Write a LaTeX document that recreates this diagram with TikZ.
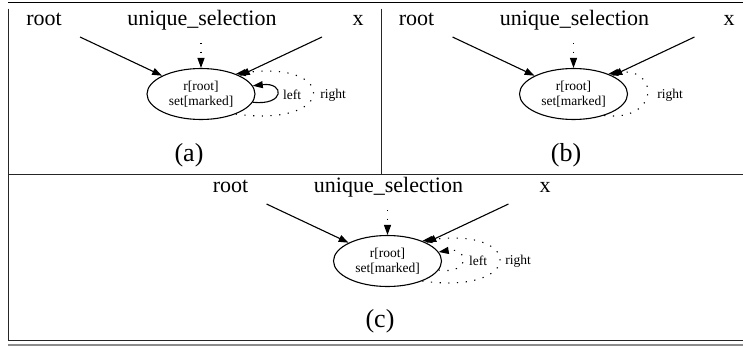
\documentclass[tikz,border=0pt]{standalone}
\usepackage{fontspec}
\setmainfont{Liberation Serif}
\usetikzlibrary{arrows.meta,shapes.geometric}

\begin{document}
\begin{tikzpicture}[x=1pt,y=-1pt,
  lbl/.style={font=\fontsize{22}{24}\selectfont, anchor=base, inner sep=0pt},
  state/.style={ellipse, draw, line width=1.1pt, minimum width=108pt, minimum height=51pt,
                inner sep=0pt, align=center, font=\fontsize{13.5}{14.5}\selectfont},
  edge/.style={line width=1.1pt, -{Triangle[length=10pt,width=7pt]}},
  dotedge/.style={edge, dash pattern=on 1.2pt off 7.5pt},
  small/.style={font=\fontsize{13.5}{15}\selectfont, inner sep=0pt},
  caption/.style={font=\fontsize{26}{28}\selectfont, anchor=base, inner sep=0pt},
  frame/.style={line width=1pt, black!85}]
\useasboundingbox (0,0) rectangle (743,348);

% table rules and panel borders
\draw[line width=1.4pt] (8,2.5) -- (743,2.5);
\draw[frame] (8.5,8.5) -- (8.5,340.5) -- (743,340.5);
\draw[frame] (8.5,174) -- (743,174);
\draw[frame] (381,8.5) -- (381,174);
\draw[line width=2pt, black!45] (8,345) -- (743,345);

% ---- panel (a)
\node[lbl] (rootA) at (44,25) {root};
\node[lbl] (uselA) at (202,25) {unique\_selection};
\node[lbl] (xA) at (358,25) {x};
\coordinate (rootAo) at (80,37);
\coordinate (uselAo) at (201,43);
\coordinate (xAo) at (322,37);
\node[state] (sA) at (201,94) {r[root]\\set[marked]};
\draw[edge] (rootAo) -- (sA);
\draw[edge] (xAo) -- (sA);
\draw[dotedge] (uselAo) -- (sA);
\draw[edge] (sA.-9) .. controls (285,106) and (285,82) .. (sA.9);
\draw[dotedge] (sA.-30) .. controls (338,128) and (338,60) .. (sA.30);
\node[small] (leftA) at (292,95) {left};
\node[small] (rightA) at (333,95) {right};
\node[caption] (capA) at (189,161) {(a)};

% ---- panel (b)
\node[lbl] (rootB) at (416.5,25) {root};
\node[lbl] (uselB) at (574.5,25) {unique\_selection};
\node[lbl] (xB) at (729,25) {x};
\coordinate (rootBo) at (452.5,37);
\coordinate (uselBo) at (573.5,43);
\coordinate (xBo) at (694.5,37);
\node[state] (sB) at (573.5,94) {r[root]\\set[marked]};
\draw[edge] (rootBo) -- (sB);
\draw[edge] (xBo) -- (sB);
\draw[dotedge] (uselBo) -- (sB);
\draw[dotedge] (sB.-35) .. controls (660,122) and (660,66) .. (sB.30);
\node[small] (rightB) at (670,95) {right};
\node[caption] (capB) at (566,161) {(b)};

% ---- panel (c)
\node[lbl] (rootC) at (230.5,192) {root};
\node[lbl] (uselC) at (388.5,192) {unique\_selection};
\node[lbl] (xC) at (545,192) {x};
\coordinate (rootCo) at (266.5,204);
\coordinate (uselCo) at (387.5,210);
\coordinate (xCo) at (508.5,204);
\node[state] (sC) at (387.5,261) {r[root]\\set[marked]};
\draw[edge] (rootCo) -- (sC);
\draw[edge] (xCo) -- (sC);
\draw[dotedge] (uselCo) -- (sC);
\draw[dotedge] (sC.-10) .. controls (470,275) and (470,247) .. (sC.10);
\draw[dotedge] (sC.-30) .. controls (524.5,295) and (524.5,227) .. (sC.30);
\node[small] (leftC) at (478,261) {left};
\node[small] (rightC) at (518,261) {right};
\node[caption] (capC) at (380,327) {(c)};
\end{tikzpicture}
\end{document}
